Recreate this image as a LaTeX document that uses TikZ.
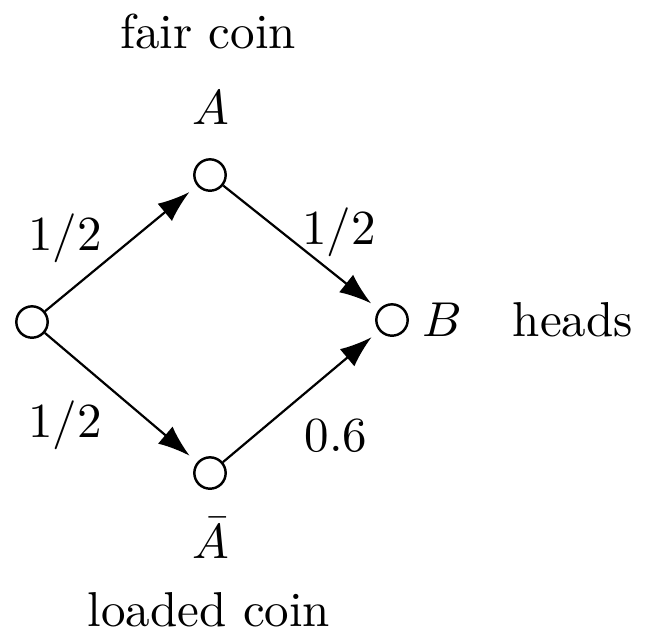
\documentclass[tikz,border=0pt]{standalone}
\usetikzlibrary{arrows.meta}
\begin{document}
\begin{tikzpicture}[x=0.2041pt,y=-0.2041pt,
  vtx/.style={circle,draw,line width=0.5pt,minimum size=6.4pt,inner sep=0pt,fill=white},
  edge/.style={line width=0.45pt,-{Latex[length=6.5pt,width=4.6pt]},shorten >=2pt},
  lbl/.style={inner sep=0pt}]
\useasboundingbox (0,0) rectangle (647,637);
\node[vtx] (S) at (32,322) {};
\node[vtx] (A) at (210,175) {};
\node[vtx] (N) at (210,473) {};
\node[vtx] (B) at (392,320) {};
\draw[edge] (S) -- (A);
\draw[edge] (A) -- (B);
\draw[edge] (S) -- (N);
\draw[edge] (N) -- (B);
\node[lbl] (tfair) at (208,31) {fair coin};
\node[lbl] (tA) at (211,108) {$A$};
\node[lbl] (t1) at (65,238) {$1/2$};
\node[lbl] (t2) at (339,232) {$1/2$};
\node[lbl] (tB) at (442,320) {$B$};
\node[lbl] (th) at (573,320) {heads};
\node[lbl] (t3) at (65,425) {$1/2$};
\node[lbl] (t4) at (336,436) {$0.6$};
\node[lbl] (tN) at (211,538) {$\bar{A}$};
\node[lbl] (tl) at (209,610) {loaded coin};
\end{tikzpicture}
\end{document}
